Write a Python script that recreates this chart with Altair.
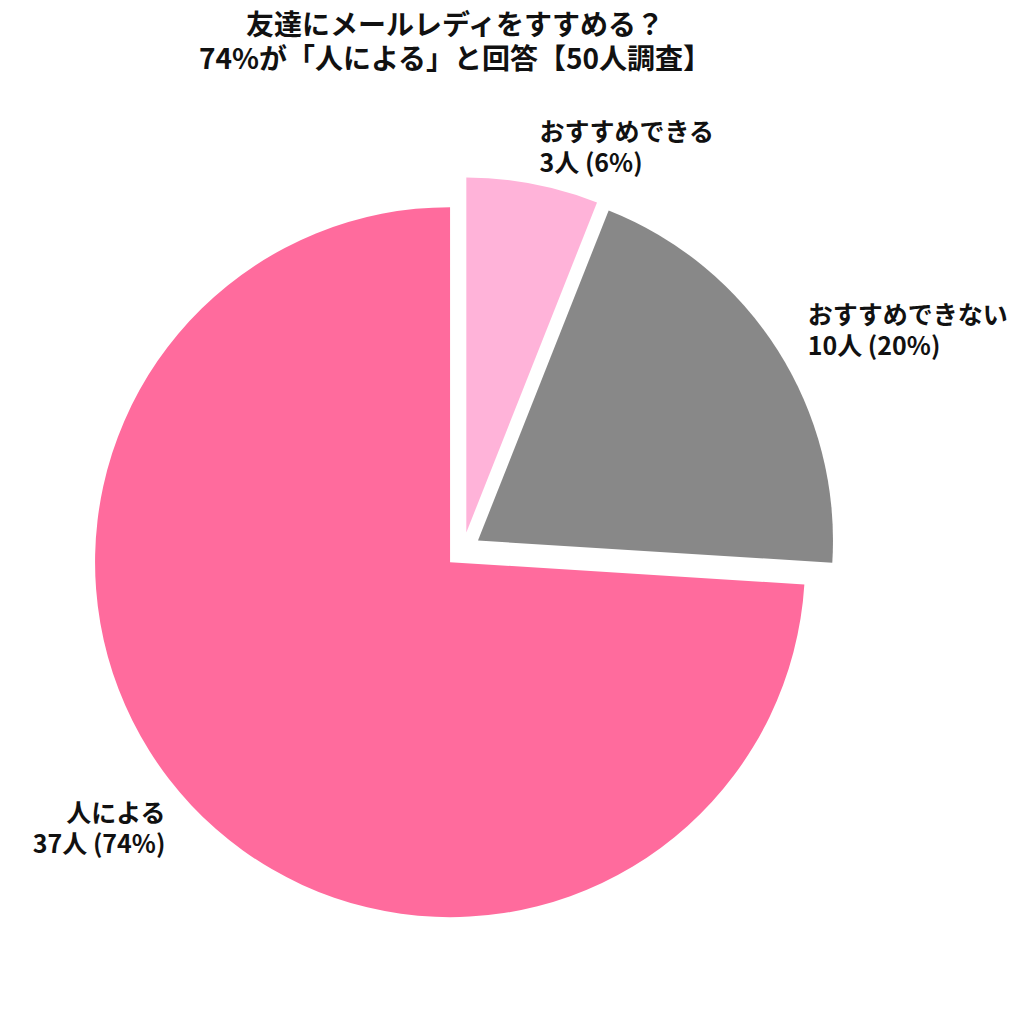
import altair as alt
import pandas as pd
import math

categories = ["おすすめできる", "おすすめできない", "人による"]
counts = [3, 10, 37]
colors = ["#FFB3D9", "#888888", "#FF6B9D"]
title_lines = ["友達にメールレディをすすめる？", "74%が「人による」と回答【50人調査】"]

df = pd.DataFrame({"idx": list(range(len(categories))), "category": categories, "count": counts})

# layout (pixels)
R = 355
EXPLODE = 0.05
LABEL_DIST = 1.1
PAD_TOP = 75
LINE_H = 31
W, H = 1008, 997 - PAD_TOP
CX, CY = 463 - 8, 550 - 8 - PAD_TOP  # pie centre inside the view

xdom = [-CX / R, (W - CX) / R]
ydom = [-(H - CY) / R, CY / R]
xs = alt.Scale(domain=xdom, range=[0, W])
ys = alt.Scale(domain=ydom, range=[H, 0])

base = alt.Chart(df).transform_joinaggregate(
    total="sum(count)"
).transform_window(
    cum="sum(count)", sort=[alt.SortField("idx")], frame=[None, 0]
).transform_calculate(
    t1="datum.cum / datum.total",
    t0="(datum.cum - datum.count) / datum.total",
).transform_calculate(
    mid="(datum.t0 + datum.t1) * PI",
).transform_calculate(
    ex=f"{EXPLODE} * sin(datum.mid)",
    ey=f"{EXPLODE} * cos(datum.mid)",
).transform_calculate(
    lx=f"datum.ex + {LABEL_DIST} * sin(datum.mid)",
    ly=f"datum.ey + {LABEL_DIST} * cos(datum.mid)",
    label="[datum.category, datum.count + '人 (' + round(datum.count / datum.total * 100) + '%)']",
)

pie = base.mark_arc(radius=R).encode(
    x=alt.X("ex:Q", scale=xs, axis=None),
    y=alt.Y("ey:Q", scale=ys, axis=None),
    theta=alt.Theta("t0:Q", scale=alt.Scale(domain=[0, 1], range=[0, 2 * math.pi]), stack=None),
    theta2="t1:Q",
    color=alt.Color("category:N", scale=alt.Scale(domain=categories, range=colors), legend=None),
)

txt_kw = dict(font="Noto Sans CJK JP", fontSize=25, fontWeight="bold", baseline="middle",
              lineHeight=LINE_H, dy=-LINE_H / 2, color="#111111")

lab_right = base.transform_filter("datum.lx >= 0").mark_text(align="left", **txt_kw).encode(
    x=alt.X("lx:Q", scale=xs, axis=None),
    y=alt.Y("ly:Q", scale=ys, axis=None),
    text=alt.Text("label:N"),
)
lab_left = base.transform_filter("datum.lx < 0").mark_text(align="right", **txt_kw).encode(
    x=alt.X("lx:Q", scale=xs, axis=None),
    y=alt.Y("ly:Q", scale=ys, axis=None),
    text=alt.Text("label:N"),
)

chart = alt.layer(pie, lab_right, lab_left).properties(
    width=W,
    height=H,
    padding={"top": PAD_TOP, "left": 0, "right": 0, "bottom": 0},
    autosize=alt.AutoSizeParams(type="none"),
    title=alt.TitleParams(
        text=title_lines,
        font="Noto Sans CJK JP",
        fontSize=28,
        fontWeight="bold",
        lineHeight=34,
        color="#111111",
        anchor="middle",
        dx=-57,
        offset=8,
    ),
).configure_view(stroke=None)

chart.save("out.html", embed_options={"renderer": "svg", "actions": False})
